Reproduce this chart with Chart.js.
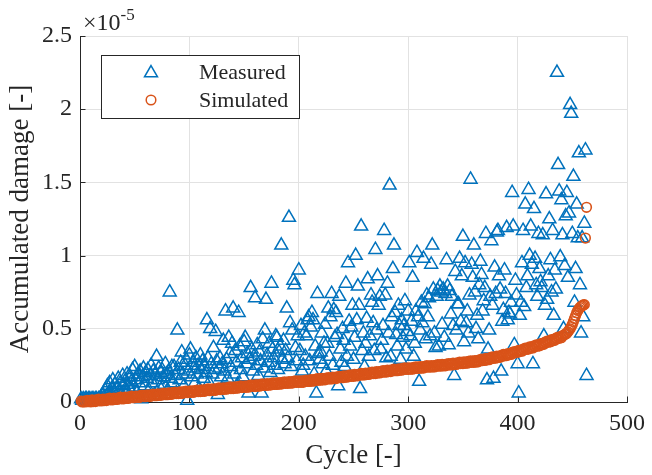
<!DOCTYPE html>
<html>
<head>
<meta charset="utf-8">
<script src="https://cdn.jsdelivr.net/npm/chart.js"></script>
<style>
  html, body { margin: 0; padding: 0; background: #fff; }
  #wrap { width: 652px; height: 475px; }
</style>
</head>
<body>
<div id="wrap"><canvas id="grafico" width="652" height="475"></canvas></div>
<script>
  const xTicks = [0, 100, 200, 300, 400, 500];
  const yTicks = [0, 0.5, 1, 1.5, 2, 2.5];
  const seriesNames = ['Measured', 'Simulated'];

  // measured damage (x 1e-5), one value per cycle 1..463
  const measuredDamage = [
    0.02,0.01,0.02,0.01,0.02,0.02,0.01,0.02,0.02,0.01,
    0.02,0.02,0.01,0.02,0.02,0.01,0.02,0.02,0.03,0.02,
    0.05,0.03,0.08,0.04,0.11,0.06,0.13,0.05,0.09,0.15,
    0.07,0.12,0.04,0.10,0.16,0.08,0.13,0.05,0.18,0.11,
    0.14,0.07,0.19,0.12,0.09,0.17,0.14,0.22,0.10,0.24,
    0.15,0.06,0.19,0.13,0.21,0.02,0.17,0.23,0.11,0.20,
    0.16,0.22,0.08,0.18,0.25,0.13,0.21,0.05,0.19,0.31,
    0.15,0.23,0.10,0.20,0.22,0.17,0.12,0.26,0.19,0.08,
    0.21,0.75,0.16,0.24,0.13,0.24,0.18,0.06,0.49,0.22,
    0.15,0.27,0.34,0.19,0.11,0.25,0.29,0.01,0.21,0.32,
    0.36,0.17,0.27,0.23,0.13,0.30,0.19,0.25,0.09,0.32,
    0.22,0.28,0.16,0.24,0.20,0.56,0.30,0.13,0.50,0.26,
    0.19,0.37,0.22,0.48,0.28,0.05,0.23,0.30,0.17,0.26,
    0.42,0.21,0.62,0.29,0.16,0.44,0.33,0.24,0.40,0.64,
    0.19,0.35,0.27,0.12,0.61,0.38,0.22,0.30,0.17,0.41,
    0.44,0.26,0.33,0.06,0.29,0.78,0.36,0.21,0.31,0.71,
    0.25,0.39,0.18,0.34,0.28,0.06,0.43,0.23,0.49,0.70,
    0.32,0.27,0.40,0.20,0.81,0.36,0.30,0.25,0.45,0.44,
    0.22,0.34,0.38,1.07,0.29,0.42,0.26,0.35,0.64,0.30,
    1.26,0.54,0.24,0.49,0.83,0.80,0.37,0.28,0.45,0.90,
    0.35,0.52,0.21,0.25,0.47,0.31,0.45,0.56,0.58,0.28,
    0.51,0.61,0.56,0.19,0.38,0.06,0.74,0.33,0.29,0.34,
    0.47,0.26,0.40,0.53,0.21,0.40,0.64,0.31,0.58,0.74,
    0.25,0.63,0.44,0.61,0.46,0.11,0.72,0.36,0.27,0.50,
    0.42,0.24,0.81,0.31,0.95,0.55,0.38,0.51,0.66,0.29,
    0.44,1.00,0.56,0.79,0.66,0.09,1.20,0.35,0.47,0.24,
    0.40,0.57,0.84,0.31,0.45,0.73,0.68,0.54,0.35,1.04,
    0.49,0.86,0.66,0.72,0.36,0.42,0.52,1.17,0.73,0.30,
    0.81,0.47,1.48,0.31,0.58,0.91,1.07,0.61,0.46,0.38,
    0.66,0.52,0.29,0.56,0.44,0.52,0.69,0.36,0.48,0.62,
    0.95,0.45,0.55,0.85,0.31,0.40,0.62,1.02,0.58,0.14,
    0.49,0.68,0.54,0.98,0.67,0.43,0.73,0.58,0.71,0.45,
    0.94,1.07,0.77,0.47,0.37,0.72,0.76,0.38,0.79,0.75,
    0.53,0.77,0.44,0.74,0.97,0.79,0.39,0.76,0.60,0.72,
    0.52,0.18,0.89,0.49,0.67,0.67,0.98,0.55,0.86,1.13,
    0.41,0.95,0.54,0.62,0.47,0.73,1.52,0.94,0.85,1.07,
    0.75,0.50,0.59,0.43,0.80,0.96,0.87,0.62,0.69,0.78,
    1.15,0.15,0.36,0.49,0.72,1.10,0.66,0.16,0.92,0.74,
    1.16,1.17,0.86,0.77,0.21,0.55,0.63,0.90,0.74,1.19,
    0.56,0.61,0.60,0.68,1.43,1.20,0.39,0.83,0.73,0.26,
    0.06,0.59,0.68,0.95,1.17,0.65,1.35,0.78,0.86,1.45,
    1.00,1.20,0.94,0.26,1.32,0.98,0.80,0.72,1.15,0.91,
    0.82,0.78,1.14,0.45,0.66,1.42,0.70,0.86,1.25,0.97,
    0.75,1.17,0.59,0.90,0.77,2.25,1.62,1.44,0.99,1.38,
    1.14,0.50,0.93,1.27,1.43,0.85,1.29,2.03,1.97,1.15,
    1.54,0.68,0.91,1.35,1.12,1.70,0.80,0.47,1.12,0.58,
    1.22,1.72,0.18
  ];

  // simulated damage (x 1e-5), one value per cycle 1..463
  const simDamage = [
    0.007,0.000,0.004,0.000,0.008,0.002,0.012,0.002,0.009,0.001,
    0.014,0.003,0.011,0.003,0.015,0.009,0.019,0.008,0.016,0.008,
    0.020,0.010,0.018,0.010,0.022,0.016,0.026,0.015,0.023,0.015,
    0.027,0.017,0.025,0.017,0.029,0.023,0.033,0.022,0.030,0.022,
    0.034,0.024,0.032,0.024,0.036,0.030,0.040,0.029,0.037,0.029,
    0.041,0.031,0.039,0.031,0.043,0.037,0.047,0.036,0.044,0.036,
    0.048,0.038,0.046,0.038,0.050,0.044,0.054,0.043,0.051,0.043,
    0.055,0.045,0.053,0.045,0.057,0.051,0.061,0.050,0.058,0.050,
    0.062,0.052,0.060,0.052,0.064,0.058,0.068,0.057,0.065,0.057,
    0.069,0.059,0.067,0.059,0.071,0.065,0.075,0.064,0.072,0.064,
    0.076,0.066,0.074,0.066,0.078,0.072,0.082,0.071,0.079,0.071,
    0.083,0.073,0.081,0.073,0.085,0.079,0.089,0.078,0.086,0.078,
    0.090,0.080,0.088,0.080,0.092,0.086,0.096,0.085,0.093,0.085,
    0.097,0.087,0.095,0.087,0.099,0.093,0.103,0.092,0.100,0.092,
    0.104,0.094,0.102,0.094,0.106,0.100,0.110,0.099,0.107,0.099,
    0.111,0.101,0.109,0.101,0.113,0.107,0.117,0.106,0.114,0.106,
    0.118,0.108,0.116,0.108,0.120,0.114,0.124,0.113,0.121,0.113,
    0.125,0.115,0.123,0.115,0.127,0.121,0.131,0.120,0.128,0.120,
    0.132,0.122,0.130,0.122,0.134,0.128,0.138,0.127,0.135,0.127,
    0.139,0.129,0.137,0.129,0.141,0.135,0.145,0.134,0.142,0.134,
    0.144,0.134,0.142,0.134,0.146,0.140,0.150,0.140,0.148,0.140,
    0.153,0.143,0.151,0.143,0.155,0.149,0.159,0.149,0.157,0.149,
    0.161,0.151,0.159,0.151,0.163,0.157,0.167,0.157,0.165,0.157,
    0.170,0.160,0.168,0.160,0.172,0.166,0.176,0.166,0.174,0.166,
    0.179,0.169,0.177,0.169,0.181,0.175,0.185,0.175,0.183,0.175,
    0.189,0.179,0.187,0.179,0.191,0.185,0.195,0.185,0.193,0.185,
    0.198,0.188,0.196,0.188,0.200,0.194,0.204,0.194,0.202,0.194,
    0.208,0.198,0.206,0.198,0.210,0.204,0.214,0.204,0.212,0.204,
    0.218,0.208,0.216,0.208,0.220,0.214,0.224,0.214,0.222,0.214,
    0.227,0.217,0.225,0.217,0.229,0.223,0.233,0.223,0.231,0.223,
    0.234,0.224,0.232,0.224,0.236,0.230,0.240,0.230,0.238,0.230,
    0.242,0.232,0.240,0.232,0.244,0.238,0.248,0.238,0.246,0.238,
    0.249,0.239,0.247,0.239,0.251,0.245,0.255,0.245,0.253,0.245,
    0.257,0.247,0.255,0.247,0.259,0.253,0.263,0.253,0.261,0.253,
    0.266,0.256,0.264,0.256,0.268,0.262,0.272,0.262,0.270,0.262,
    0.275,0.265,0.273,0.265,0.277,0.271,0.281,0.271,0.279,0.271,
    0.283,0.273,0.282,0.274,0.288,0.282,0.293,0.283,0.292,0.284,
    0.298,0.288,0.297,0.289,0.303,0.297,0.308,0.298,0.307,0.299,
    0.313,0.304,0.312,0.305,0.319,0.314,0.325,0.315,0.324,0.317,
    0.331,0.322,0.331,0.325,0.339,0.334,0.345,0.336,0.346,0.339,
    0.353,0.344,0.354,0.347,0.361,0.356,0.368,0.359,0.368,0.361,
    0.376,0.367,0.376,0.369,0.384,0.379,0.390,0.381,0.391,0.384,
    0.399,0.390,0.400,0.394,0.409,0.404,0.416,0.408,0.418,0.411,
    0.426,0.418,0.428,0.421,0.436,0.432,0.444,0.435,0.445,0.439,
    0.452,0.455,0.462,0.464,0.470,0.480,0.490,0.500,0.515,0.530,
    0.550,0.570,0.590,0.610,0.625,0.635,0.645,0.652,0.658,0.663,
    0.665,1.12,1.33
  ];

  const azul = '#0072BD';
  const naranja = '#D95319';
  const eje = '#262626';
  const serif = "'Liberation Serif', 'Times New Roman', serif";

  // MATLAB style: ticks pointing inwards
  const ticksDentro = {
    id: 'ticksDentro',
    beforeDatasetsDraw(chart) {
      const { ctx, chartArea: a, scales: { x, y } } = chart;
      ctx.save();
      ctx.strokeStyle = eje;
      ctx.lineWidth = 1;
      ctx.beginPath();
      xTicks.forEach(t => {
        const px = Math.round(x.getPixelForValue(t)) + 0.5;
        ctx.moveTo(px, a.bottom);
        ctx.lineTo(px, a.bottom - 5.5);
      });
      yTicks.forEach(t => {
        const py = Math.round(y.getPixelForValue(t)) + 0.5;
        ctx.moveTo(a.left, py);
        ctx.lineTo(a.left + 5.5, py);
      });
      ctx.stroke();
      ctx.restore();
    }
  };

  function triangulo(ctx, x, y, r) {
    ctx.beginPath();
    for (let k = 0; k < 3; k++) {
      const ang = k * 2 * Math.PI / 3;
      const px = x + Math.sin(ang) * r, py = y - Math.cos(ang) * r;
      if (k === 0) ctx.moveTo(px, py); else ctx.lineTo(px, py);
    }
    ctx.closePath();
    ctx.stroke();
  }

  const leyenda = {
    id: 'leyenda',
    afterDraw(chart) {
      const { ctx, chartArea: a } = chart;
      const bx = a.left + 21, by = a.top + 19, bw = 198, bh = 63;
      ctx.save();
      ctx.fillStyle = '#fff';
      ctx.fillRect(bx, by, bw, bh);
      ctx.strokeStyle = eje;
      ctx.lineWidth = 1;
      ctx.strokeRect(bx + 0.5, by + 0.5, bw, bh);

      ctx.lineWidth = 1.5;
      ctx.strokeStyle = azul;
      triangulo(ctx, bx + 50, by + 18, 7.5);
      ctx.strokeStyle = naranja;
      ctx.beginPath();
      ctx.arc(bx + 50, by + 45, 4.8, 0, Math.PI * 2);
      ctx.stroke();

      ctx.fillStyle = eje;
      ctx.font = `22px ${serif}`;
      ctx.textAlign = 'left';
      ctx.textBaseline = 'middle';
      ctx.fillText(seriesNames[0], bx + 98, by + 18);
      ctx.fillText(seriesNames[1], bx + 98, by + 46);

      // exponent above the y axis
      ctx.textBaseline = 'alphabetic';
      ctx.font = `24px ${serif}`;
      ctx.fillText('\u00d710', a.left + 3, a.top - 6);
      const w = ctx.measureText('\u00d710').width;
      ctx.font = `17px ${serif}`;
      ctx.fillText('-5', a.left + 3 + w, a.top - 16);
      ctx.restore();
    }
  };

  new Chart(document.getElementById('grafico'), {
    type: 'scatter',
    data: {
      datasets: [
        {
          label: seriesNames[0],
          data: measuredDamage.map((v, i) => ({ x: i + 1, y: v })),
          pointStyle: 'triangle',
          pointRadius: 7.5,
          borderWidth: 1.5,
          borderColor: azul,
          backgroundColor: 'rgba(0,0,0,0)',
          clip: false,
          order: 2
        },
        {
          label: seriesNames[1],
          data: simDamage.map((v, i) => ({ x: i + 1, y: v })),
          pointStyle: 'circle',
          pointRadius: 4.8,
          borderWidth: 1.6,
          borderColor: naranja,
          backgroundColor: 'rgba(0,0,0,0)',
          clip: false,
          order: 1
        }
      ]
    },
    options: {
      responsive: false,
      animation: false,
      devicePixelRatio: 1,
      events: [],
      layout: { padding: { top: 36, right: 21, left: 0, bottom: 0 } },
      plugins: {
        legend: { display: false },
        tooltip: { enabled: false }
      },
      scales: {
        x: {
          type: 'linear',
          min: 0,
          max: 500,
          afterFit: s => { s.height = 73; },
          afterBuildTicks: s => { s.ticks = xTicks.map(v => ({ value: v })); },
          ticks: {
            color: eje,
            padding: 7,
            font: { family: serif, size: 24 },
            callback: v => String(v)
          },
          grid: { color: '#e2e2e2', drawTicks: false },
          border: { color: eje, width: 1 },
          title: {
            display: true,
            text: 'Cycle [-]',
            color: eje,
            font: { family: serif, size: 27 },
            padding: { top: 0, bottom: 3 }
          }
        },
        y: {
          type: 'linear',
          min: 0,
          max: 2.5,
          afterFit: s => { s.width = 80; },
          afterBuildTicks: s => { s.ticks = yTicks.map(v => ({ value: v })); },
          ticks: {
            color: eje,
            padding: 8,
            font: { family: serif, size: 24 },
            callback: v => String(v)
          },
          grid: { color: '#e2e2e2', drawTicks: false },
          border: { color: eje, width: 1 },
          title: {
            display: true,
            text: 'Accumulated damage [-]',
            color: eje,
            font: { family: serif, size: 27 },
            padding: { top: 5, bottom: 0 }
          }
        }
      }
    },
    plugins: [ticksDentro, leyenda]
  });
</script>
</body>
</html>
